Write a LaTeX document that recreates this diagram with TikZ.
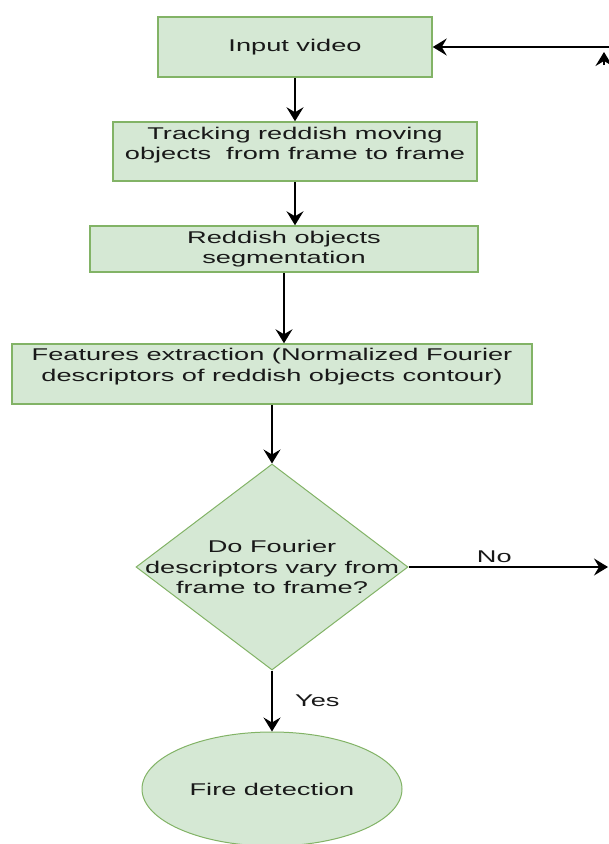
\documentclass[tikz,border=0pt]{standalone}
\usepackage{fontspec}
\setmainfont[FakeStretch=1.6]{Liberation Sans}
\usetikzlibrary{shapes.geometric,arrows.meta,calc}

\definecolor{boxfill}{HTML}{D5E8D4}
\definecolor{boxline}{HTML}{82B366}

\tikzset{
  boxtext/.style={align=center, font=\fontsize{17}{20.5}\selectfont, text=black!90},
  stage/.style={draw=boxline, fill=boxfill, line width=1.5pt, inner sep=0pt, boxtext},
  decision/.style={diamond, draw=boxline, fill=boxfill, line width=1pt, inner sep=0pt,
    minimum width=272pt, minimum height=206pt},
  terminal/.style={ellipse, draw=boxline, fill=boxfill, line width=1pt, inner sep=0pt,
    minimum width=260pt, minimum height=114pt, boxtext},
  flow/.style={-{Stealth[length=14pt,width=17pt,inset=5pt]}, line width=1.6pt}
}

\begin{document}
\begin{tikzpicture}[x=1pt, y=1pt]
  \useasboundingbox (0,0) rectangle (609,-844);

  % process boxes
  \node[stage, minimum width=274pt, minimum height=60pt] (inp) at (295,-47) {Input video};
  \node[stage, minimum width=364pt, minimum height=59pt,
        label={[boxtext, anchor=north, inner sep=2pt, yshift=-3.5pt]north:Tracking reddish moving\\objects~ from frame to frame}]
        (trk) at (295,-151.5) {};
  \node[stage, minimum width=388pt, minimum height=46pt,
        label={[boxtext, anchor=north, inner sep=2pt, yshift=-3.5pt]north:Reddish objects\\segmentation}]
        (red) at (284,-249) {};
  \node[stage, minimum width=520pt, minimum height=60pt,
        label={[boxtext, anchor=north, inner sep=2pt, yshift=-3pt]north:Features extraction (Normalized Fourier\\descriptors of reddish objects contour)}]
        (feat) at (272,-374) {};

  % decision and end
  \node[decision, label={[boxtext]center:Do Fourier\\descriptors vary from\\frame to frame?}] (dec) at (272,-567) {};
  \node[terminal] (fire) at (272,-789) {Fire detection};

  % loop ends (cut at the border)
  \coordinate (nout) at (608,-567);
  \coordinate (back) at (609,-47);
  \coordinate (upend) at (604,-52);

  \draw[flow] (inp.south) -- (inp.south |- trk.north);
  \draw[flow] (trk.south) -- (trk.south |- red.north);
  \draw[flow] (red.south) -- (red.south |- feat.north);
  \draw[flow] (feat.south) -- (dec.north);
  \draw[flow] (dec.south) -- (fire.north) node[midway, right=19pt, boxtext] {Yes};
  \draw[flow] (dec.east) -- (nout) node[pos=0.43, above, boxtext] {No};
  \draw[flow] (back) -- (inp.east);
  \draw[flow] ($(upend)+(0,-13)$) -- (upend);
\end{tikzpicture}
\end{document}
